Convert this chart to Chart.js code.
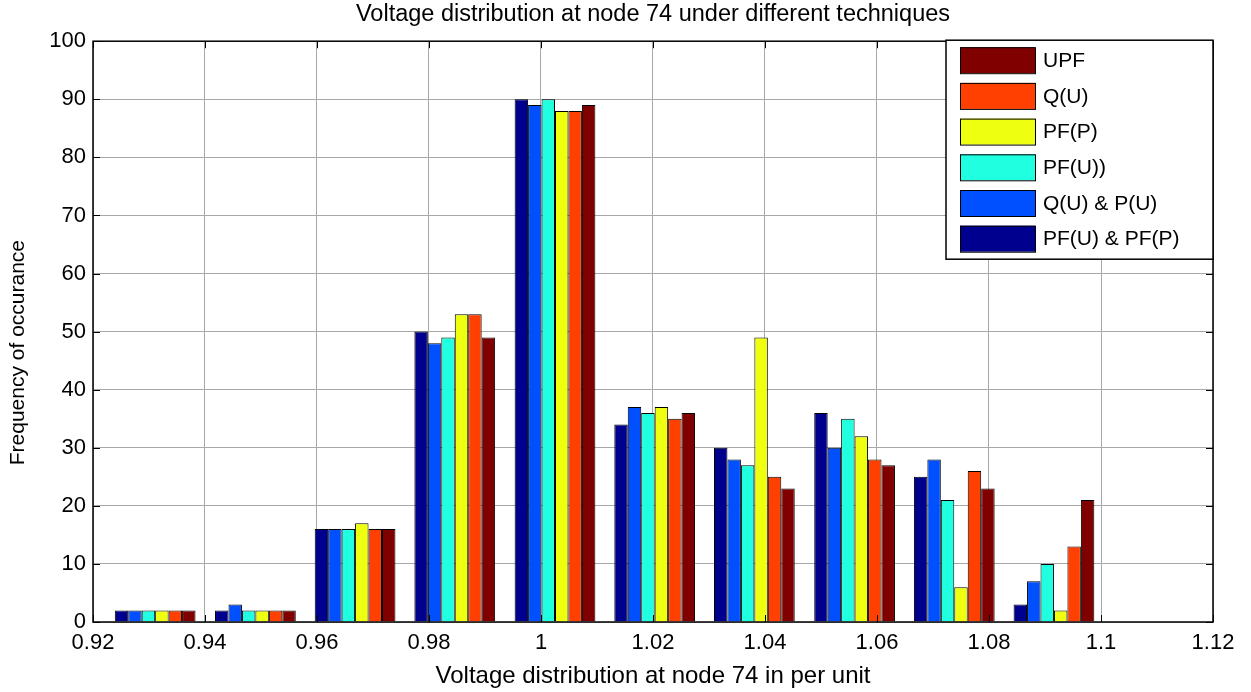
<!DOCTYPE html>
<html>
<head>
<meta charset="utf-8">
<title>Voltage distribution at node 74</title>
<script src="https://cdn.jsdelivr.net/npm/chart.js@4/dist/chart.umd.min.js"></script>
<style>
    html, body { margin: 0; padding: 0; background: #fff; }
    #wrap { width: 1251px; height: 692px; }
</style>
</head>
<body>
<div id="wrap"><canvas id="voltChart" width="1251" height="692"></canvas></div>
<script>
// histogram bin centres (per unit) and counts per control technique
const binCenters = [0.9311, 0.9490, 0.9668, 0.9846, 1.0025, 1.0203, 1.0381, 1.0560, 1.0738, 1.0916];
const pfUandPfP = [2, 2, 16, 50, 90, 34, 30, 36, 25, 3];
const qUandPU   = [2, 3, 16, 48, 89, 37, 28, 30, 28, 7];
const pfU       = [2, 2, 16, 49, 90, 36, 27, 35, 21, 10];
const pfP       = [2, 2, 17, 53, 88, 37, 49, 32, 6, 2];
const qU        = [2, 2, 16, 53, 88, 35, 25, 28, 26, 13];
const upf       = [2, 2, 16, 49, 89, 36, 23, 27, 23, 21];

const seriesNames  = ['PF(U) & PF(P)', 'Q(U) & P(U)', 'PF(U))', 'PF(P)', 'Q(U)', 'UPF'];
const seriesValues = [pfUandPfP, qUandPU, pfU, pfP, qU, upf];
const seriesColors = ['#00008f', '#0050ff', '#20ffdf', '#efff10', '#ff4000', '#800000'];

const xTicks = [0.92, 0.94, 0.96, 0.98, 1, 1.02, 1.04, 1.06, 1.08, 1.1, 1.12];
const yTicks = [0, 10, 20, 30, 40, 50, 60, 70, 80, 90, 100];
const yTitle = 'Frequency of occurance';

const FONT = 'Liberation Sans, Arial, sans-serif';

const datasets = seriesNames.map((name, i) => ({
    label: name,
    data: binCenters.map((x, j) => ({ x: x, y: seriesValues[i][j] })),
    backgroundColor: seriesColors[i],
    borderColor: '#000000',
    borderWidth: 1,
    categoryPercentage: 0.81,
    barPercentage: 1
}));

// matlab style: tick marks pointing inward on all four sides, boxed legend top right
const boxPlugin = {
    id: 'boxPlugin',
    afterDatasetsDraw(chart) {
        const { ctx, chartArea: a, scales } = chart;
        ctx.save();
        ctx.strokeStyle = '#000';
        ctx.lineWidth = 1;
        const len = 7;
        ctx.beginPath();
        xTicks.forEach(v => {
            const px = Math.round(scales.x.getPixelForValue(v)) + 0.5;
            ctx.moveTo(px, a.top); ctx.lineTo(px, a.top + len);
            ctx.moveTo(px, a.bottom); ctx.lineTo(px, a.bottom - len);
        });
        yTicks.forEach(v => {
            const py = Math.round(scales.y.getPixelForValue(v)) + 0.5;
            ctx.moveTo(a.left, py); ctx.lineTo(a.left + len, py);
            ctx.moveTo(a.right, py); ctx.lineTo(a.right - len, py);
        });
        ctx.stroke();
        ctx.lineWidth = 1.5;
        ctx.strokeRect(a.left, a.top, a.right - a.left, a.bottom - a.top);

        // y axis label, sitting a little below the axis middle
        ctx.save();
        ctx.translate(18, (a.top + a.bottom) / 2 + 21);
        ctx.rotate(-Math.PI / 2);
        ctx.font = '21px ' + FONT;
        ctx.fillStyle = '#000';
        ctx.textAlign = 'center';
        ctx.textBaseline = 'middle';
        ctx.fillText(yTitle, 0, 0);
        ctx.restore();

        // legend, reversed order like the bars' stacking key
        const w = 267, h = 219;
        const lx = a.right - w, ly = a.top - 1;
        ctx.fillStyle = '#fff';
        ctx.fillRect(lx, ly, w, h);
        ctx.lineWidth = 1.5;
        ctx.strokeRect(lx, ly, w, h);
        ctx.font = '21px ' + FONT;
        ctx.textBaseline = 'middle';
        ctx.textAlign = 'left';
        for (let i = 0; i < seriesNames.length; i++) {
            const k = seriesNames.length - 1 - i;
            const ry = ly + 7 + i * 35.7;
            ctx.fillStyle = seriesColors[k];
            ctx.fillRect(lx + 14, ry, 75, 26);
            ctx.lineWidth = 1;
            ctx.strokeStyle = '#000';
            ctx.strokeRect(lx + 14.5, ry + 0.5, 75, 26);
            ctx.fillStyle = '#000';
            ctx.fillText(seriesNames[k], lx + 97, ry + 14);
        }
        ctx.restore();
    }
};

const ctx = document.getElementById('voltChart').getContext('2d');
new Chart(ctx, {
    type: 'bar',
    data: { datasets: datasets },
    options: {
        responsive: false,
        animation: false,
        layout: { padding: { left: 0, right: 38, top: 0, bottom: 0 } },
        scales: {
            x: {
                type: 'linear',
                min: 0.92,
                max: 1.12,
                offset: false,
                afterBuildTicks: scale => { scale.ticks = xTicks.map(v => ({ value: v })); },
                afterFit: scale => { scale.height = 70; },
                ticks: {
                    color: '#000',
                    padding: 8,
                    font: { family: FONT, size: 22 },
                    callback: v => String(+v.toFixed(2))
                },
                grid: { color: '#a8a8a8', offset: false, drawTicks: false },
                border: { display: false },
                title: {
                    display: true,
                    text: 'Voltage distribution at node 74 in per unit',
                    color: '#000',
                    font: { family: FONT, size: 24 },
                    padding: { top: 0, bottom: 1 }
                }
            },
            y: {
                min: 0,
                max: 100,
                afterBuildTicks: scale => { scale.ticks = yTicks.map(v => ({ value: v })); },
                afterFit: scale => { scale.width = 93; },
                ticks: {
                    color: '#000',
                    padding: 7,
                    font: { family: FONT, size: 22 }
                },
                grid: { color: '#a8a8a8', drawTicks: false },
                border: { display: false }
            }
        },
        plugins: {
            legend: { display: false },
            tooltip: { enabled: false },
            title: {
                display: true,
                fullSize: false,
                text: 'Voltage distribution at node 74 under different techniques',
                color: '#000',
                font: { family: FONT, size: 23.5, weight: 'normal' },
                padding: { top: 0, bottom: 13 }
            }
        }
    },
    plugins: [boxPlugin]
});
</script>
</body>
</html>
